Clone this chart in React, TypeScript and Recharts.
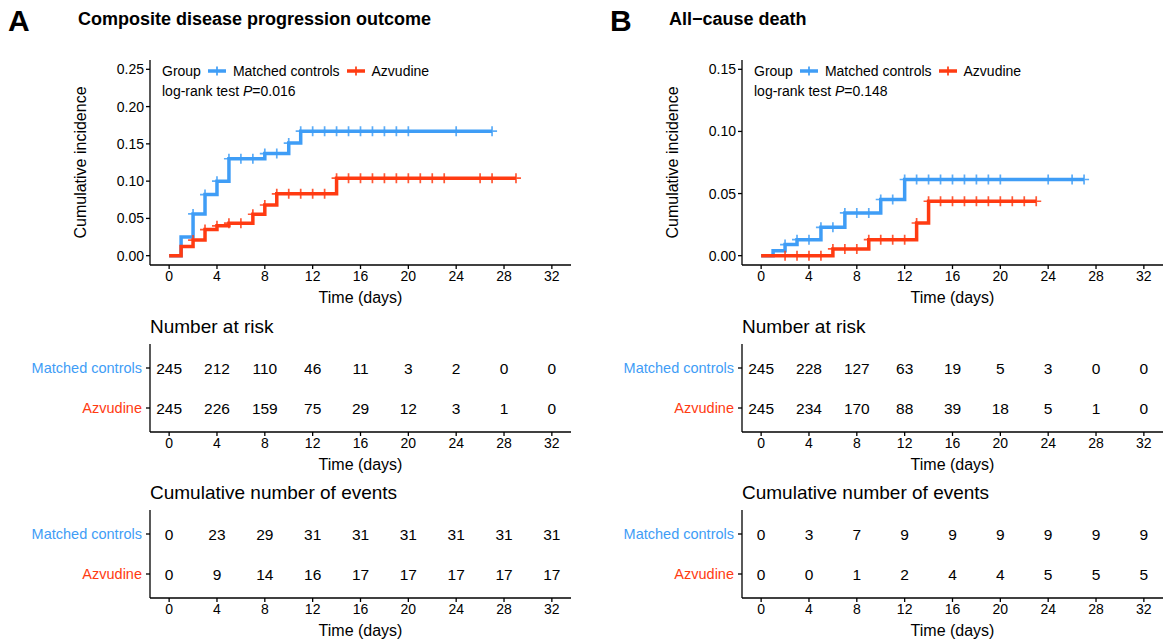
import React from "react";
import { LineChart, Line, XAxis, YAxis, ScatterChart, Scatter } from "recharts";

const FONT = "'Liberation Sans', Arial, sans-serif";
const BLUE = "#3f9df6";
const RED = "#ff3b12";

const TIME_TICKS = [0, 4, 8, 12, 16, 20, 24, 28, 32];
const GROUPS = ["Matched controls", "Azvudine"];

// Panel A: composite disease progression outcome
const ctrlStepsA = [0, 1, 2, 3, 4, 5, 8, 10, 11];
const ctrlIncA = [0, 0.025, 0.056, 0.082, 0.1, 0.13, 0.137, 0.151, 0.167];
const ctrlCensorA = [2, 3, 4, 5, 6, 7, 8, 9, 10, 11, 12, 13, 14, 15, 16, 17, 18, 19, 20, 24, 27];
const ctrlEndA = 27;

const azvStepsA = [0, 1, 2, 3, 4, 5, 7, 8, 9, 14];
const azvIncA = [0, 0.0124, 0.021, 0.035, 0.04, 0.0436, 0.0556, 0.068, 0.083, 0.104];
const azvCensorA = [2, 3, 4, 5, 6, 7, 8, 9, 10, 11, 12, 13, 14, 15, 16, 17, 18, 19, 20, 21, 22, 23, 26, 27, 29];
const azvEndA = 29;

const riskCtrlA = [245, 212, 110, 46, 11, 3, 2, 0, 0];
const riskAzvA = [245, 226, 159, 75, 29, 12, 3, 1, 0];
const eventsCtrlA = [0, 23, 29, 31, 31, 31, 31, 31, 31];
const eventsAzvA = [0, 9, 14, 16, 17, 17, 17, 17, 17];

// Panel B: all-cause death
const ctrlStepsB = [0, 1, 2, 3, 5, 7, 10, 12];
const ctrlIncB = [0, 0.004, 0.0089, 0.0129, 0.0228, 0.0344, 0.0452, 0.0613];
const ctrlCensorB = [2, 3, 4, 5, 6, 7, 8, 9, 10, 11, 12, 13, 14, 15, 16, 17, 18, 19, 20, 24, 26, 27];
const ctrlEndB = 27;

const azvStepsB = [0, 6, 9, 13, 14];
const azvIncB = [0, 0.0054, 0.0129, 0.0263, 0.0438];
const azvCensorB = [2, 3, 4, 5, 6, 7, 8, 9, 10, 11, 12, 13, 14, 15, 16, 17, 18, 19, 20, 21, 22, 23];
const azvEndB = 23;

const riskCtrlB = [245, 228, 127, 63, 19, 5, 3, 0, 0];
const riskAzvB = [245, 234, 170, 88, 39, 18, 5, 1, 0];
const eventsCtrlB = [0, 3, 7, 9, 9, 9, 9, 9, 9];
const eventsAzvB = [0, 0, 1, 2, 4, 4, 5, 5, 5];

const buildCurve = (steps: number[], inc: number[], censor: number[], end: number) => {
  const times = Array.from(new Set([...steps, ...censor, end])).sort((a, b) => a - b);
  return times.map((t) => {
    let y = 0;
    steps.forEach((s, i) => {
      if (s <= t) y = inc[i];
    });
    return { t, y, c: censor.includes(t) };
  });
};

const buildTable = (top: number[], bottom: number[]) => [
  ...TIME_TICKS.map((t, i) => ({ t, row: 2, v: top[i] })),
  ...TIME_TICKS.map((t, i) => ({ t, row: 1, v: bottom[i] })),
];

const X_DOMAIN = [-1.6, 33.6];
const axisLine = { stroke: "#000", strokeWidth: 1.3 };
const tickStyle = { fill: "#000", fontSize: 14, fontFamily: FONT };

const censorDot = (color: string) => (props: any) => {
  const { cx, cy, payload, index } = props;
  if (!payload || !payload.c) return <g key={`d-${index}`} />;
  return (
    <path
      key={`d-${index}`}
      d={`M${cx - 5},${cy}H${cx + 5}M${cx},${cy - 5}V${cy + 5}`}
      stroke={color}
      strokeWidth={1.7}
      strokeOpacity={0.85}
    />
  );
};

const LegendKey = ({ color }: { color: string }) => (
  <svg width={20} height={12} style={{ margin: "0 6px 0 6px" }}>
    <line x1={1} y1={6} x2={19} y2={6} stroke={color} strokeWidth={3.5} />
    <line x1={10} y1={1.5} x2={10} y2={10.5} stroke={color} strokeWidth={1.7} />
  </svg>
);

interface CurveProps {
  left: number;
  ctrl: { t: number; y: number; c: boolean }[];
  azv: { t: number; y: number; c: boolean }[];
  yDomain: number[];
  yTicks: number[];
  pValue: string;
}

const CurvePanel = (props: CurveProps) => (
  <div style={{ position: "absolute", left: props.left, top: 0 }}>
    <LineChart width={580} height={310} margin={{ top: 60, right: 9, bottom: 5, left: 0 }}>
      <XAxis
        type="number"
        dataKey="t"
        domain={X_DOMAIN}
        ticks={TIME_TICKS}
        allowDataOverflow
        height={40}
        tickSize={4}
        axisLine={axisLine}
        tickLine={axisLine}
        tick={tickStyle}
        label={{ value: "Time (days)", position: "insideBottom", offset: 2, fill: "#000", fontSize: 16, fontFamily: FONT }}
      />
      <YAxis
        type="number"
        dataKey="y"
        domain={props.yDomain}
        ticks={props.yTicks}
        allowDataOverflow
        width={150}
        tickSize={4}
        axisLine={axisLine}
        tickLine={axisLine}
        tick={tickStyle}
        tickFormatter={(v: number) => v.toFixed(2)}
        label={{
          value: "Cumulative incidence",
          angle: -90,
          position: "insideLeft",
          offset: 80,
          textAnchor: "middle",
          fill: "#000",
          fontSize: 16,
          fontFamily: FONT,
        }}
      />
      <Line
        data={props.ctrl}
        dataKey="y"
        type="stepAfter"
        stroke={BLUE}
        strokeWidth={3.5}
        dot={censorDot(BLUE)}
        activeDot={false}
        isAnimationActive={false}
      />
      <Line
        data={props.azv}
        dataKey="y"
        type="stepAfter"
        stroke={RED}
        strokeWidth={3.5}
        dot={censorDot(RED)}
        activeDot={false}
        isAnimationActive={false}
      />
    </LineChart>
    <div style={{ position: "absolute", left: 162, top: 62, fontSize: 14, fontFamily: FONT, color: "#000" }}>
      <div style={{ display: "flex", alignItems: "center", height: 18 }}>
        <span>Group</span>
        <LegendKey color={BLUE} />
        <span>{GROUPS[0]}</span>
        <LegendKey color={RED} />
        <span>{GROUPS[1]}</span>
      </div>
      <div style={{ marginTop: 3, height: 18 }}>
        log-rank test <i>P</i>={props.pValue}
      </div>
    </div>
  </div>
);

const RowTick = (props: any) => {
  const { x, y, payload } = props;
  const isCtrl = payload.value === 2;
  return (
    <text
      x={x - 2}
      y={y}
      textAnchor="end"
      dominantBaseline="central"
      fill={isCtrl ? BLUE : RED}
      fontSize={14.5}
      fontFamily={FONT}
    >
      {isCtrl ? GROUPS[0] : GROUPS[1]}
    </text>
  );
};

const CellText = (props: any) => {
  const { cx, cy, payload } = props;
  return (
    <text x={cx} y={cy} textAnchor="middle" dominantBaseline="central" fill="#000" fontSize={15.5} fontFamily={FONT}>
      {payload.v}
    </text>
  );
};

const TablePanel = ({ left, top, title, data }: { left: number; top: number; title: string; data: any[] }) => (
  <div style={{ position: "absolute", left, top }}>
    <div style={{ position: "absolute", left: 150, top: -13, fontSize: 19, fontFamily: FONT, lineHeight: "20px", whiteSpace: "nowrap" }}>
      {title}
    </div>
    <ScatterChart width={580} height={146} margin={{ top: 14, right: 9, bottom: 4, left: 0 }}>
      <XAxis
        type="number"
        dataKey="t"
        domain={X_DOMAIN}
        ticks={TIME_TICKS}
        allowDataOverflow
        height={40}
        tickSize={4}
        axisLine={axisLine}
        tickLine={axisLine}
        tick={tickStyle}
        label={{ value: "Time (days)", position: "insideBottom", offset: 2, fill: "#000", fontSize: 16, fontFamily: FONT }}
      />
      <YAxis
        type="number"
        dataKey="row"
        domain={[0.4, 2.6]}
        ticks={[1, 2]}
        width={150}
        tickSize={4}
        axisLine={axisLine}
        tickLine={axisLine}
        tick={<RowTick />}
      />
      <Scatter data={data} shape={<CellText />} isAnimationActive={false} />
    </ScatterChart>
  </div>
);

const Heading = ({ letterLeft, titleLeft, letter, title }: { letterLeft: number; titleLeft: number; letter: string; title: string }) => (
  <>
    <div style={{ position: "absolute", left: letterLeft, top: 4, fontSize: 30, fontWeight: "bold", fontFamily: FONT }}>
      {letter}
    </div>
    <div style={{ position: "absolute", left: titleLeft, top: 9, fontSize: 18, fontWeight: "bold", fontFamily: FONT, whiteSpace: "nowrap" }}>
      {title}
    </div>
  </>
);

export default function App() {
  const ctrlA = buildCurve(ctrlStepsA, ctrlIncA, ctrlCensorA, ctrlEndA);
  const azvA = buildCurve(azvStepsA, azvIncA, azvCensorA, azvEndA);
  const ctrlB = buildCurve(ctrlStepsB, ctrlIncB, ctrlCensorB, ctrlEndB);
  const azvB = buildCurve(azvStepsB, azvIncB, azvCensorB, azvEndB);

  return (
    <div
      style={{
        position: "absolute",
        left: 0,
        top: 0,
        width: 1168,
        height: 639,
        overflow: "hidden",
        background: "#fff",
        fontFamily: FONT,
      }}
    >
      <Heading letterLeft={8} titleLeft={78} letter="A" title="Composite disease progression outcome" />
      <Heading letterLeft={610} titleLeft={669} letter="B" title="All−cause death" />

      <CurvePanel
        left={0}
        ctrl={ctrlA}
        azv={azvA}
        yDomain={[-0.0125, 0.2625]}
        yTicks={[0, 0.05, 0.1, 0.15, 0.2, 0.25]}
        pValue="0.016"
      />
      <CurvePanel
        left={592}
        ctrl={ctrlB}
        azv={azvB}
        yDomain={[-0.0075, 0.1575]}
        yTicks={[0, 0.05, 0.1, 0.15]}
        pValue="0.148"
      />

      <TablePanel left={0} top={330} title="Number at risk" data={buildTable(riskCtrlA, riskAzvA)} />
      <TablePanel left={0} top={496} title="Cumulative number of events" data={buildTable(eventsCtrlA, eventsAzvA)} />
      <TablePanel left={592} top={330} title="Number at risk" data={buildTable(riskCtrlB, riskAzvB)} />
      <TablePanel left={592} top={496} title="Cumulative number of events" data={buildTable(eventsCtrlB, eventsAzvB)} />
    </div>
  );
}
